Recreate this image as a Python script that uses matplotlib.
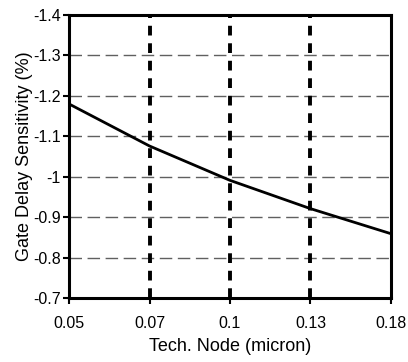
import matplotlib
matplotlib.use('Agg')
import matplotlib.pyplot as plt

plt.rcParams['font.family'] = ['Liberation Sans', 'DejaVu Sans']

nodes = ['0.05', '0.07', '0.1', '0.13', '0.18']
sensitivity = [-1.18, -1.076, -0.991, -0.921, -0.859]
y_ticks = [-0.7, -0.8, -0.9, -1.0, -1.1, -1.2, -1.3, -1.4]
y_labels = ['-0.7', '-0.8', '-0.9', '-1', '-1.1', '-1.2', '-1.3', '-1.4']

fig = plt.figure(figsize=(4.08, 3.62), dpi=100)
ax = fig.add_axes([69 / 408, 1 - 298 / 362, (391 - 69) / 408, (298 - 15) / 362])

x = list(range(len(nodes)))

# horizontal dashed grid
for v in y_ticks[1:-1]:
    ax.axhline(v, color='#606060', lw=1.0, dashes=(9, 4), zorder=1)
# vertical bold dotted lines
for xi in x[1:-1]:
    ax.axvline(xi, color='black', lw=2.8, dashes=(2.5, 2.0), zorder=2)

ax.plot(x, sensitivity, color='black', lw=2.0, zorder=3)

ax.set_xlim(0, len(nodes) - 1)
ax.set_ylim(-0.7, -1.4)
ax.set_xticks(x)
ax.set_xticklabels(nodes)
ax.set_yticks(y_ticks)
ax.set_yticklabels(y_labels)
ax.tick_params(direction='out', length=4, width=1.5, labelsize=11.5)
ax.tick_params(axis='x', pad=9)
ax.tick_params(axis='y', pad=2)

for s in ax.spines.values():
    s.set_linewidth(2.2)
    s.set_color('black')

ax.set_xlabel('Tech. Node (micron)', fontsize=13, labelpad=5)
ax.set_ylabel('Gate Delay Sensitivity (%)', fontsize=13, labelpad=0)

fig.savefig('out.png', dpi=100)
